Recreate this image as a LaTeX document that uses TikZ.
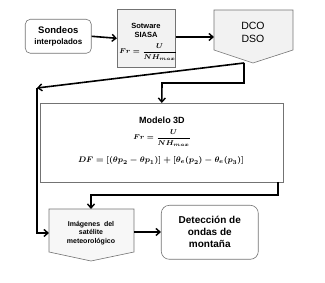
\documentclass[tikz,border=0pt]{standalone}
\usepackage{amsmath}
\usepackage{fontspec}
\setmainfont{Liberation Sans}
\usetikzlibrary{arrows.meta}
\begin{document}
\begin{tikzpicture}[x=1pt,y=-1pt,
  conn/.style={line width=1.6pt,black},
  arr/.style={conn,-{Straight Barb[length=4pt,width=7pt,line width=1.4pt]}},
  boxline/.style={draw=black!55,line width=0.6pt},
  txt/.style={font=\bfseries,align=center,inner sep=0pt}]
\useasboundingbox (0,0) rectangle (325,283);
% Sondeos
\node[boxline,rounded corners=5pt,minimum width=66pt,minimum height=34pt,anchor=north west,
  align=center,inner sep=0pt] (sond) at (25,19)
  {\fontsize{9.5}{10}\bfseries Sondeos\\[-1pt]\fontsize{8}{9}\bfseries interpolados};
% Software
\node[boxline,fill=black!5,minimum width=58pt,minimum height=58pt,anchor=north west] (soft) at (117,9) {};
\node[txt,font=\fontsize{7.5}{9}\bfseries] (softt) at (146,30) {Sotware\\SIASA};
\node[inner sep=0pt,font=\fontsize{7.5}{9}\selectfont\boldmath] (softf) at (148,52) {$Fr=\dfrac{U}{NH_{max}}$};
% DCO DSO
\draw[boxline,fill=black!5] (214,10) -- (293,10) -- (293,50) -- (253,63) -- (214,50) -- cycle;
\coordinate (dcob) at (244,63);
\node[inner sep=0pt,align=center,font=\fontsize{10.5}{13}\selectfont] (dcot) at (253,32) {DCO\\DSO};
% Model
\node[boxline,minimum width=243pt,minimum height=79pt,anchor=north west] (model) at (40,103) {};
\node[txt,font=\fontsize{9}{10}\bfseries] (modt) at (162,120) {Modelo 3D};
\node[inner sep=0pt,font=\fontsize{7.5}{9}\selectfont\boldmath] (modf1) at (162,138) {$Fr=\dfrac{U}{NH_{max}}$};
\node[inner sep=0pt,font=\fontsize{8.5}{9}\selectfont\boldmath] (modf2) at (161,161) {$DF=[(\theta p_2-\theta p_1)]+[\theta_e(p_2)-\theta_e(p_3)]$};
% Imagenes
\draw[boxline,fill=black!3] (49,209) -- (134,209) -- (134,252) -- (91,261) -- (49,252) -- cycle;
\coordinate (imgtop) at (91,209);
\coordinate (imgleft) at (49,233);
\coordinate (imgright) at (134,232);
\node[txt,font=\fontsize{7}{8.5}\bfseries] (imgt) at (91,233) {Imágenes\ \ del\\satélite\\meteorológico};
% Deteccion
\node[boxline,rounded corners=8pt,minimum width=97pt,minimum height=54pt,anchor=north west,
  txt,font=\fontsize{10}{12}\bfseries] (det) at (161,205) {Detección de\\ondas de\\montaña};
% connectors
\draw[arr] (sond.east) -- (soft.west);
\draw[arr] (soft.east |- 0,37) -- (214,37);
\coordinate (lc) at (37,88);
\coordinate (c1) at (244,83);
\coordinate (c2) at (162,83);
\draw[arr] (dcob) -- (lc);
\draw[arr] (lc) -- (37,233) -- (imgleft);
\draw[arr] (dcob) -- (c1) -- (c2) -- (model.north);
\coordinate (m1) at (278,182);
\coordinate (m2) at (278,195);
\coordinate (m3) at (91,195);
\draw[arr] (m1) -- (m2) -- (m3) -- (imgtop);
\draw[arr] (imgright) -- (det.west |- imgright);
\end{tikzpicture}
\end{document}
